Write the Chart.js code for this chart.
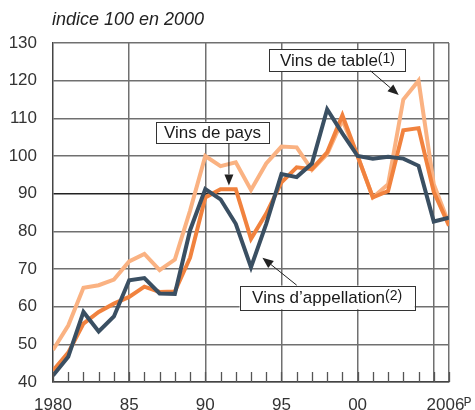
<!DOCTYPE html>
<html>
<head>
<meta charset="utf-8">
<script src="https://cdn.jsdelivr.net/npm/chart.js@4.4.1/dist/chart.umd.min.js"></script>
<style>
  html, body { margin: 0; padding: 0; background: #fff; }
  #wrap { width: 475px; height: 410px; }
</style>
</head>
<body>
<div id="wrap"><canvas id="vinsChart"></canvas></div>
<script>
// données : indice 100 en 2000
const annees = [1980, 1981, 1982, 1983, 1984, 1985, 1986, 1987, 1988, 1989, 1990, 1991, 1992, 1993,
	1994, 1995, 1996, 1997, 1998, 1999, 2000, 2001, 2002, 2003, 2004, 2005, 2006];
const vinsTable = [48.5, 55, 65, 65.7, 67.2, 72, 74, 69.7, 72.5, 85.5, 100, 97.3, 98.3, 91, 98,
	102.5, 102.3, 96.3, 100.5, 109.5, 100, 89, 92.5, 115, 120, 92.5, 82];
const vinsPays = [43, 47.8, 55.5, 58.6, 60.8, 62.6, 65.3, 63.9, 64, 73, 89, 91.2, 91.2, 78, 84.7,
	93, 97, 96.5, 101, 110.8, 100, 89, 90.7, 106.8, 107.4, 90.5, 81.5];
const vinsAppellation = [41.7, 46.7, 58.6, 53.4, 57.4, 67, 67.6, 63.5, 63.4, 80.3, 91.2, 88.5, 82,
	70.5, 82, 95.2, 94.4, 98, 112.4, 106, 100, 99.3, 99.8, 99.3, 97.4, 82.6, 83.6];

const xTickAnnees = [1980, 1985, 1990, 1995, 2000, 2006];
const xTickLabels = ["1980", "85", "90", "95", "00", "2006ᴾ"];
const xGrilleAnnees = [1985, 1990, 1995, 2000, 2005, 2006];
const yTicks = [40, 50, 60, 70, 80, 90, 100, 110, 120, 130];

// étiquettes des séries (en coordonnées des données)
const etiquettes = [
	{ texte: "Vins de table", note: "(1)", x0: 1994.2, x1: 2003.15, y0: 128.3, y1: 122.5,
		fleche: [2000.85, 122.6, 2002.7, 116.2] },
	{ texte: "Vins de pays", note: "", x0: 1986.75, x1: 1994.2, y0: 109.1, y1: 103.4,
		fleche: [1991.55, 103.4, 1991.55, 92.2] },
	{ texte: "Vins d\u2019appellation", note: "(2)", x0: 1992.25, x1: 2003.75, y0: 65.6, y1: 59.3,
		fleche: [1996.0, 65.7, 1993.75, 73.0] },
];

const police = "'Liberation Sans', Arial, sans-serif";

function points(valeurs) {
	return annees.map((a, i) => ({ x: a, y: valeurs[i] }));
}

const decorPlugin = {
	id: "decor",
	afterDraw(chart) {
		const { ctx, chartArea, scales } = chart;
		const sx = scales.x, sy = scales.y;
		ctx.save();
		// titre
		ctx.fillStyle = "#222";
		ctx.font = "italic 18px " + police;
		ctx.textBaseline = "middle";
		ctx.textAlign = "left";
		ctx.fillText("indice 100 en 2000", 52, 20);

		// petites graduations annuelles
		ctx.strokeStyle = "#555";
		ctx.lineWidth = 1.3;
		annees.forEach((a) => {
			const px = Math.round(sx.getPixelForValue(a)) + 0.5;
			ctx.beginPath();
			ctx.moveTo(px, chartArea.bottom);
			ctx.lineTo(px, chartArea.bottom - 10);
			ctx.stroke();
		});

		// encadrés + flèches
		etiquettes.forEach((e) => {
			const x0 = sx.getPixelForValue(e.x0), x1 = sx.getPixelForValue(e.x1);
			const y0 = sy.getPixelForValue(e.y0), y1 = sy.getPixelForValue(e.y1);
			ctx.fillStyle = "#fff";
			ctx.fillRect(x0, y0, x1 - x0, y1 - y0);
			ctx.strokeStyle = "#333";
			ctx.lineWidth = 1;
			ctx.strokeRect(Math.round(x0) + 0.5, Math.round(y0) + 0.5, Math.round(x1 - x0), Math.round(y1 - y0));

			ctx.font = "17px " + police;
			const w1 = ctx.measureText(e.texte).width;
			ctx.font = "14px " + police;
			const w2 = e.note ? ctx.measureText(e.note).width : 0;
			let tx = (x0 + x1) / 2 - (w1 + w2) / 2;
			const ty = (y0 + y1) / 2 + 1;
			ctx.fillStyle = "#1a1a1a";
			ctx.textAlign = "left";
			ctx.textBaseline = "middle";
			ctx.font = "17px " + police;
			ctx.fillText(e.texte, tx, ty);
			if (e.note) {
				ctx.font = "14px " + police;
				ctx.fillText(e.note, tx + w1, ty - 2);
			}

			const ax = sx.getPixelForValue(e.fleche[0]), ay = sy.getPixelForValue(e.fleche[1]);
			const bx = sx.getPixelForValue(e.fleche[2]), by = sy.getPixelForValue(e.fleche[3]);
			const ang = Math.atan2(by - ay, bx - ax);
			const lg = 11, lr = 4.5;
			ctx.strokeStyle = "#222";
			ctx.lineWidth = 1;
			ctx.beginPath();
			ctx.moveTo(ax, ay);
			ctx.lineTo(bx - Math.cos(ang) * lg, by - Math.sin(ang) * lg);
			ctx.stroke();
			ctx.fillStyle = "#222";
			ctx.beginPath();
			ctx.moveTo(bx, by);
			ctx.lineTo(bx - Math.cos(ang) * lg - Math.sin(ang) * lr, by - Math.sin(ang) * lg + Math.cos(ang) * lr);
			ctx.lineTo(bx - Math.cos(ang) * lg + Math.sin(ang) * lr, by - Math.sin(ang) * lg - Math.cos(ang) * lr);
			ctx.closePath();
			ctx.fill();
		});
		ctx.restore();
	},
};

const ctx = document.getElementById("vinsChart").getContext("2d");

new Chart(ctx, {
	type: "line",
	data: {
		datasets: [
			{
				label: "Vins d'appellation",
				data: points(vinsAppellation),
				borderColor: "rgb(58, 79, 98)",
				borderWidth: 4,
			},
			{
				label: "Vins de pays",
				data: points(vinsPays),
				borderColor: "rgb(241, 130, 62)",
				borderWidth: 4,
			},
			{
				label: "Vins de table",
				data: points(vinsTable),
				borderColor: "rgb(250, 178, 130)",
				borderWidth: 4,
			},
		],
	},
	options: {
		responsive: true,
		maintainAspectRatio: false,
		animation: false,
		layout: { padding: { top: 43, right: 26, left: 0, bottom: 0 } },
		elements: {
			point: { radius: 0 },
			line: { tension: 0, borderJoinStyle: "miter", borderCapStyle: "butt" },
		},
		plugins: {
			legend: { display: false },
			tooltip: { enabled: false },
		},
		scales: {
			x: {
				type: "linear",
				min: 1980,
				max: 2006,
				afterFit(scale) {
					scale.height = 28;
					scale.paddingLeft = 0;
					scale.paddingRight = 0;
				},
				afterBuildTicks(scale) {
					scale.ticks = annees.map((a) => ({ value: a }));
				},
				ticks: {
					autoSkip: false,
					maxRotation: 0,
					padding: 13,
					color: "#333",
					font: { family: police, size: 17 },
					callback: (v) => {
						const i = xTickAnnees.indexOf(v);
						return i >= 0 ? xTickLabels[i] : "";
					},
				},
				grid: {
					drawTicks: false,
					lineWidth: 1.5,
					color: (c) => (c.tick && xGrilleAnnees.includes(c.tick.value) ? "#707070" : "rgba(0,0,0,0)"),
				},
				border: { color: "#444", width: 1.5 },
			},
			y: {
				min: 40,
				max: 130,
				afterFit(scale) {
					scale.width = 53;
					scale.paddingTop = 0;
					scale.paddingBottom = 0;
				},
				afterBuildTicks(scale) {
					scale.ticks = yTicks.map((v) => ({ value: v }));
				},
				ticks: {
					padding: 16,
					color: "#333",
					font: { family: police, size: 17 },
				},
				grid: {
					drawTicks: false,
					lineWidth: 1.5,
					color: (c) => (c.tick && c.tick.value === 90 ? "#222" : "#707070"),
				},
				border: { color: "#444", width: 1.5 },
			},
		},
	},
	plugins: [decorPlugin],
});
</script>
</body>
</html>
